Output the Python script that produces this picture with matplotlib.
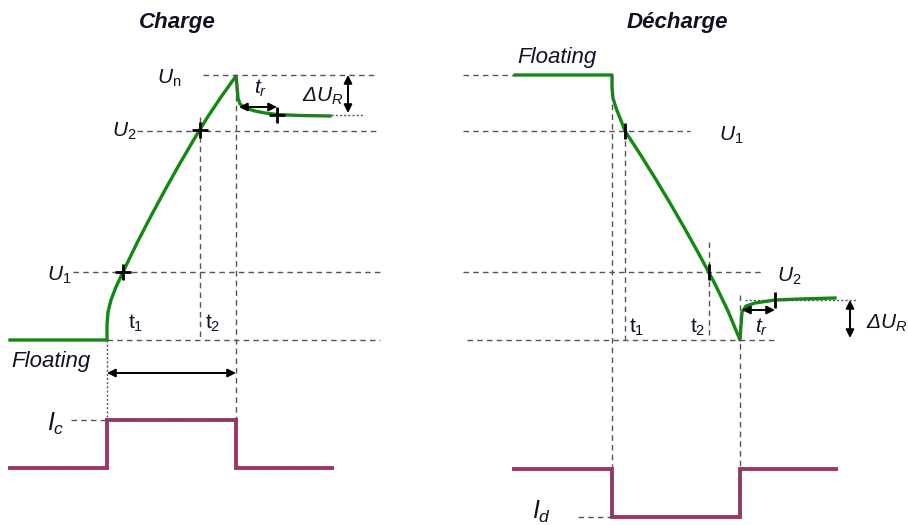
import numpy as np
import matplotlib
matplotlib.use("Agg")
from matplotlib import pyplot as plt

plt.rcParams['font.family'] = ['Liberation Sans', 'DejaVu Sans']
plt.rcParams['mathtext.fontset'] = 'custom'
plt.rcParams['mathtext.rm'] = 'Liberation Sans'
plt.rcParams['mathtext.it'] = 'Liberation Sans:italic'

# schematic drawn in pixel units of the 908x525 picture (y grows downwards)
green = '#128a12'
magenta = '#9e3468'
guide = '#555555'
ink = '#111122'

# --- charge: voltage curve and current step ---
charge_x = [10, 107, 107, 108, 111, 116, 123, 137, 151, 165, 179, 193, 207,
            221, 236, 237, 238, 240, 245, 255, 265, 277, 300, 330]
charge_y = [340, 340, 325, 312, 300, 287, 272, 243, 216, 190, 165, 141, 118,
            97, 76, 86, 98, 104, 108, 111, 113, 114.5, 115.5, 116]
charge_marks_x = [123, 200, 277]
charge_marks_y = [272, 130, 114.5]
ic_x = [10, 107, 107, 236, 236, 332]
ic_y = [468, 468, 420, 420, 468, 468]

# --- discharge: voltage curve and current step ---
dis_x = [515, 612, 612, 613, 616, 620, 625, 640, 655, 670, 685, 700, 715,
         728, 740, 741, 742, 746, 755, 775, 800, 835]
dis_y = [75, 75, 88, 98, 108, 118, 131, 154, 178, 203, 229, 256, 284,
         311, 340, 325, 312, 306, 303, 300, 299, 298]
dis_marks_x = [625, 709, 775]
dis_marks_y = [131, 272, 300]
id_x = [514, 612, 612, 740, 740, 836]
id_y = [469, 469, 517, 517, 469, 469]

# dashed guides: (x0, x1, y0, y1)
dashed = [
    (203, 377, 75, 75), (137, 377, 131, 131), (73, 380, 272, 272),
    (107, 380, 340, 340), (71, 236, 420, 420),
    (200, 200, 117, 340), (236, 236, 76, 420),
    (463, 515, 75, 75), (463, 690, 131, 131), (463, 762, 272, 272),
    (467, 777, 340, 340), (578, 612, 517, 517),
    (612, 612, 75, 517), (625, 625, 131, 340), (709, 709, 242, 340),
    (740, 740, 295, 517),
]
dotted = [
    (107, 107, 340, 420), (277, 363, 115, 115), (745, 857, 300, 300),
]
# double arrows: (x0, y0, x1, y1)
arrows = [
    (107, 373, 236, 373), (348, 75, 348, 113), (239, 107, 277, 107),
    (850, 300, 850, 338), (742, 310, 775, 310),
]

fig = plt.figure(figsize=(9.08, 5.25), dpi=100)
ax = fig.add_axes([0, 0, 1, 1])
ax.set_xlim(0, 908)
ax.set_ylim(525, 0)
ax.axis('off')

for x0, x1, y0, y1 in dashed:
    ax.plot([x0, x1], [y0, y1], color=guide, lw=1.0, ls=(0, (4, 3)), zorder=3)
for x0, x1, y0, y1 in dotted:
    ax.plot([x0, x1], [y0, y1], color=guide, lw=1.0, ls=(0, (1.5, 1.5)), zorder=3)

ax.plot(charge_x, charge_y, color=green, lw=2.4, solid_joinstyle='round', zorder=2)
ax.plot(dis_x, dis_y, color=green, lw=2.4, solid_joinstyle='round', zorder=2)
ax.plot(ic_x, ic_y, color=magenta, lw=2.8, solid_joinstyle='miter', zorder=2)
ax.plot(id_x, id_y, color=magenta, lw=2.8, solid_joinstyle='miter', zorder=2)

ax.plot(charge_marks_x, charge_marks_y, ls='none', marker='+', ms=12, mew=2,
        color='black', zorder=4)
ax.plot(dis_marks_x, dis_marks_y, ls='none', marker='|', ms=11, mew=2,
        color='black', zorder=4)

for x0, y0, x1, y1 in arrows:
    ax.annotate('', xy=(x1, y1), xytext=(x0, y0),
                arrowprops=dict(arrowstyle='<|-|>', color='black', lw=1.4,
                                mutation_scale=12, shrinkA=0, shrinkB=0),
                zorder=5)

# titles
ax.text(177, 28, 'Charge', fontsize=16, fontweight='bold', style='italic',
        ha='center', va='baseline', color=ink)
ax.text(677, 28, 'Décharge', fontsize=16, fontweight='bold', style='italic',
        ha='center', va='baseline', color=ink)

lab = dict(fontsize=15, ha='left', va='baseline', color=ink)
# charge labels
ax.text(157, 84, r'$U_\mathrm{n}$', **lab)
ax.text(112, 137, r'$U_\mathrm{2}$', **lab)
ax.text(47, 281, r'$U_\mathrm{1}$', **lab)
ax.text(128, 329, r'$\mathrm{t}_\mathrm{1}$', **lab)
ax.text(205, 329, r'$\mathrm{t}_\mathrm{2}$', **lab)
ax.text(11, 367, 'Floating', fontsize=16, style='italic', ha='left',
        va='baseline', color=ink)
ax.text(47, 431, r'$I_c$', fontsize=18, ha='left', va='baseline', color=ink)
ax.text(254, 94, r'$t_r$', **lab)
ax.text(302, 102, r'Δ$U_R$', style='italic', **lab)

# discharge labels
ax.text(517, 63, 'Floating', fontsize=16, style='italic', ha='left',
        va='baseline', color=ink)
ax.text(719, 141, r'$U_\mathrm{1}$', **lab)
ax.text(777, 282, r'$U_\mathrm{2}$', **lab)
ax.text(629, 333, r'$\mathrm{t}_\mathrm{1}$', **lab)
ax.text(690, 333, r'$\mathrm{t}_\mathrm{2}$', **lab)
ax.text(755, 333, r'$t_r$', **lab)
ax.text(866, 329, r'Δ$U_R$', style='italic', **lab)
ax.text(532, 519, r'$I_d$', fontsize=18, ha='left', va='baseline', color=ink)

fig.savefig('out.png', dpi=100)
